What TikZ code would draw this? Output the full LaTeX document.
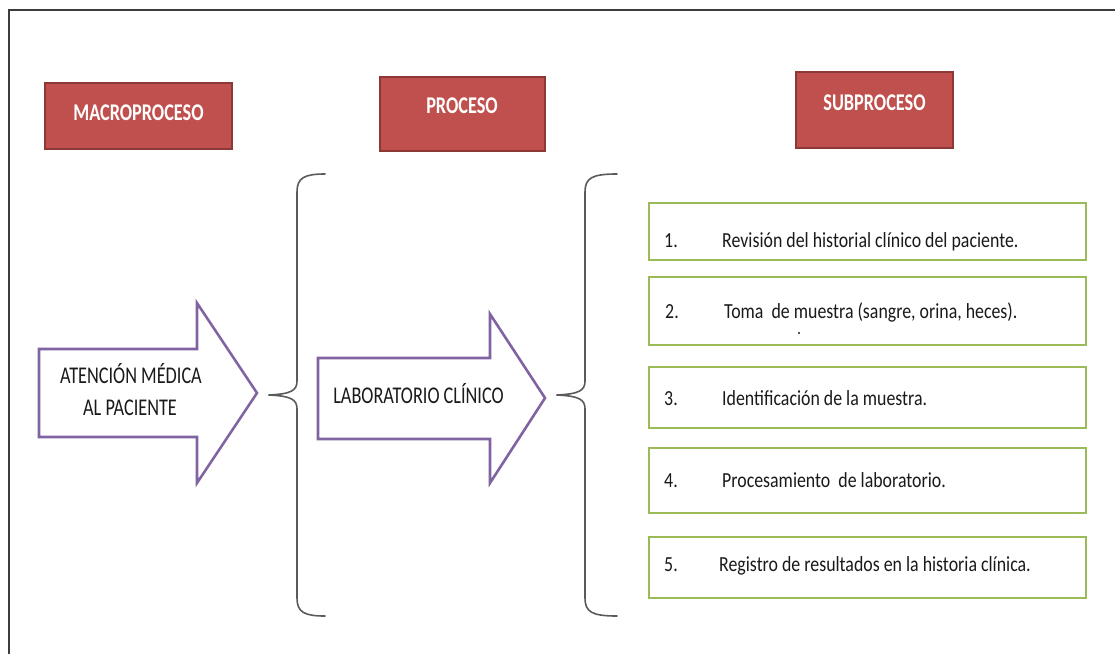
\documentclass[tikz,border=0pt]{standalone}
\usepackage{fontspec}
\setmainfont{Carlito}
\newfontfamily\headfont[FakeStretch=0.76]{Carlito}
\newfontfamily\itemfont[FakeStretch=0.83]{Carlito}

\definecolor{hdrred}{HTML}{C0504D}
\definecolor{hdrline}{HTML}{8C3836}
\definecolor{arrowpurple}{HTML}{8064A2}
\definecolor{boxgreen}{HTML}{9BBB59}
\definecolor{bracegray}{HTML}{5A5A5A}
\definecolor{framegray}{HTML}{3C3C3C}
\definecolor{inkdark}{HTML}{1A1A1A}

\tikzset{
  hdrbox/.style={draw=hdrline, line width=2pt, fill=hdrred, inner sep=0pt},
  hdrtext/.style={anchor=base, text=white, font=\headfont\bfseries\fontsize{24}{26}\selectfont, inner sep=0pt},
  bigarrow/.style={draw=arrowpurple, line width=2.6pt, fill=white, line join=miter},
  arrowtext/.style={anchor=base, text=inkdark, font=\headfont\fontsize{24}{26}\selectfont, inner sep=0pt},
  stepbox/.style={draw=boxgreen, line width=2.8pt, fill=white, inner sep=0pt, minimum width=437pt},
  itemtext/.style={anchor=base west, text=inkdark, font=\itemfont\fontsize{21.5}{24}\selectfont, inner sep=0pt},
  bracket/.style={draw=bracegray, line width=1.6pt, line cap=round},
}

\begin{document}
\begin{tikzpicture}[x=1pt, y=-1pt]
\useasboundingbox (0,0) rectangle (1115,653);
\clip (0,0) rectangle (1115,653);

% outer frame (runs past the right and bottom edges)
\draw[framegray, line width=2pt] (9,10) rectangle (1140,680);

% column headers
\node[hdrbox, minimum width=187pt, minimum height=66pt] (macro) at (138.5,116) {};
\node[hdrtext] (macrot) at (138.5,120) {MACROPROCESO};
\node[hdrbox, minimum width=165pt, minimum height=74pt] (proc) at (462.5,114) {};
\node[hdrtext] (proct) at (462,113) {PROCESO};
\node[hdrbox, minimum width=157pt, minimum height=76pt] (subp) at (874.5,110) {};
\node[hdrtext] (subpt) at (874.5,110) {SUBPROCESO};

% block arrow: macroprocess
\draw[bigarrow] (39,349) -- (197,349) -- (197,303) -- (257,393)
  -- (197,483) -- (197,437) -- (39,437) -- cycle;
\node[arrowtext] (aten1) at (131,383) {ATENCIÓN MÉDICA};
\node[arrowtext] (aten2) at (130,415) {AL PACIENTE};

% block arrow: process
\draw[bigarrow] (318,358) -- (490,358) -- (490,314) -- (545,398)
  -- (490,483) -- (490,439) -- (318,439) -- cycle;
\node[arrowtext] (lab) at (418.5,403) {LABORATORIO CLÍNICO};

% curly brackets
\draw[bracket] (325,174) .. controls (304,174) and (297,178) .. (297,192)
  -- (297,381) .. controls (297,390) and (292,394) .. (269,395);
\draw[bracket] (269,395) .. controls (292,396) and (297,400) .. (297,409)
  -- (297,598) .. controls (297,612) and (304,616) .. (325,616);

\draw[bracket] (617,174) .. controls (592,174) and (585,178) .. (585,192)
  -- (585,381) .. controls (585,390) and (580,394) .. (557,395);
\draw[bracket] (557,395) .. controls (580,396) and (585,400) .. (585,409)
  -- (585,598) .. controls (585,612) and (592,616) .. (617,616);

% subprocess steps
\node[stepbox, minimum height=57pt] (s1) at (867.5,231.5) {};
\node[stepbox, minimum height=68pt] (s2) at (867.5,311) {};
\node[stepbox, minimum height=61pt] (s3) at (867.5,397.5) {};
\node[stepbox, minimum height=65pt] (s4) at (867.5,480.5) {};
\node[stepbox, minimum height=61pt] (s5) at (867.5,567.5) {};

\node[itemtext] (n1) at (664,247) {1.};
\node[itemtext] (t1) at (722,247) {Revisión del historial clínico del paciente.};
\node[itemtext] (n2) at (665,318) {2.};
\node[itemtext] (t2) at (724,318) {Toma \ de muestra (sangre, orina, heces).};
% small stray mark under step 2
\node[circle, fill=inkdark, inner sep=0pt, minimum size=2.2pt] (dot) at (799,333) {};
\node[itemtext] (n3) at (664,405) {3.};
\node[itemtext] (t3) at (722,405) {Identificación de la muestra.};
\node[itemtext] (n4) at (664,487) {4.};
\node[itemtext] (t4) at (722,487) {Procesamiento \ de laboratorio.};
\node[itemtext] (n5) at (664,571) {5.};
\node[itemtext] (t5) at (719,571) {Registro de resultados en la historia clínica.};
\end{tikzpicture}
\end{document}
